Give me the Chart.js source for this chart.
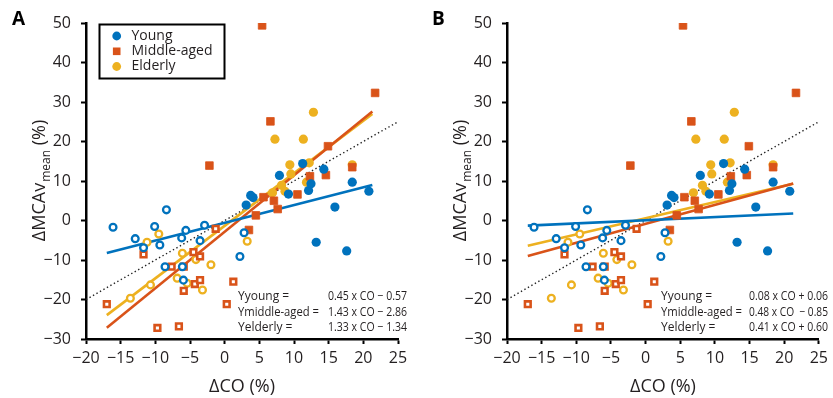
<!DOCTYPE html>
<html>
<head>
<meta charset="utf-8">
<script src="https://cdn.jsdelivr.net/npm/chart.js@4.4.0/dist/chart.umd.min.js"></script>
<style>
  html, body { margin: 0; padding: 0; background: #fff; }
  #wrap { position: relative; width: 833px; height: 398px; overflow: hidden; }
  canvas { position: absolute; top: 0; }
</style>
</head>
<body>
<div id="wrap">
  <canvas id="cA" width="420" height="398" style="left:0px"></canvas>
  <canvas id="cB" width="413" height="398" style="left:420px"></canvas>
</div>
<script>
// ---- Data (ΔCO %, ΔMCAv_mean %) ----
const youngFilledX = [3.1, 3.75, 4.1, 7.9, 9.2, 11.25, 12.1, 12.45, 14.3, 15.9, 13.2, 17.6, 18.4, 20.8];
const youngFilledY = [3.9, 6.35, 5.8, 11.4, 6.7, 14.4, 7.6, 9.3, 13.0, 3.4, -5.5, -7.7, 9.7, 7.4];
const youngOpenX = [-16.1, -12.9, -11.7, -10.1, -9.35, -8.4, -8.6, -6.2, -5.6, -6.1, -5.95, -3.55, -2.9, 2.2, 2.8];
const youngOpenY = [-1.7, -4.6, -6.9, -1.5, -6.2, 2.7, -11.7, -4.4, -2.5, -11.7, -15.1, -5.1, -1.2, -9.1, -3.1];

const middleFilledX = [5.4, 21.7, 6.6, -2.2, 14.9, 14.6, 12.3, 10.5, 18.4, 7.1, 7.65, 5.6, 4.5, 3.5];
const middleFilledY = [49.4, 32.3, 25.1, 13.9, 18.8, 11.5, 11.2, 6.6, 13.5, 5.0, 2.9, 5.9, 1.3, -2.4];
const middleOpenX = [-17.0, -11.7, -9.7, -6.6, -7.65, -5.9, -5.9, -4.5, -3.55, -4.3, -3.55, -1.3, 1.25, 0.3];
const middleOpenY = [-21.2, -8.6, -27.2, -26.8, -11.7, -11.7, -17.8, -8.0, -9.1, -16.1, -15.1, -2.1, -15.5, -21.2];

const elderlyFilledX = [12.8, 7.25, 11.35, 9.4, 12.2, 9.55, 11.8, 18.4, 8.7, 8.2, 6.9];
const elderlyFilledY = [27.4, 20.6, 20.6, 14.1, 14.6, 11.8, 9.7, 14.1, 7.4, 8.9, 7.0];
const elderlyOpenX = [-13.6, -10.7, -11.2, -9.5, -6.85, -5.4, -6.1, -4.15, -3.2, -1.98, 3.25];
const elderlyOpenY = [-19.7, -16.3, -5.5, -3.4, -14.6, -15.9, -8.3, -9.9, -17.6, -11.2, -5.25];

// regression line end points
const fitX = [-17, 21.3];
const fitYoungA = [-8.22, 9.01];
const fitMiddleA = [-27.17, 27.60];
const fitElderlyA = [-23.95, 26.99];
const fitYoungB = [-1.30, 1.76];
const fitMiddleB = [-9.01, 9.37];
const fitElderlyB = [-6.37, 9.33];
const identityX = [-20, 25];
const identityY = [-20, 25];

const xTicks = [-20, -15, -10, -5, 0, 5, 10, 15, 20, 25];
const yTicks = [-30, -20, -10, 0, 10, 20, 30, 40, 50];

const seriesNames = ['Young', 'Middle-aged', 'Elderly'];
const eqLabels = ['Yyoung =', 'Ymiddle-aged =', 'Yelderly ='];
const eqA = ['0.45 x CO \u2212 0.57', '1.43 x CO \u2212 2.86', '1.33 x CO \u2212 1.34'];
const eqB = ['0.08 x CO + 0.06', '0.48 x CO  \u2212 0.85', '0.41 x CO + 0.60'];

// ---- styling ----
const BLUE = '#0072BD', ORANGE = '#D95319', YELLOW = '#EDB120';
const FONT = "'Open Sans', 'Noto Sans', sans-serif";
const TXT = '#231F20';

const pts = (xs, ys) => xs.map((x, i) => ({ x: x, y: ys[i] }));

function filledDs(xs, ys, color, style) {
  return { data: pts(xs, ys), pointStyle: style, pointRadius: style === 'rect' ? 5.4 : 4.6,
    backgroundColor: color, borderColor: color, pointBorderWidth: style === 'rect' ? 0.8 : 0, showLine: false, order: 1 };
}
function openDs(xs, ys, color, style) {
  return { data: pts(xs, ys), pointStyle: style, pointRadius: style === 'rect' ? 4.0 : 3.4,
    backgroundColor: '#ffffff', borderColor: color, pointBorderWidth: style === 'rect' ? 2.6 : 2.3, showLine: false, order: 1 };
}
function lineDs(xs, ys, color, width, dash) {
  return { data: pts(xs, ys), showLine: true, pointRadius: 0, borderColor: color, backgroundColor: color,
    borderWidth: width, borderDash: dash || [], order: 5, fill: false };
}

function drawText(ctx, label, eqCol, eqX, panelLetter, withLegend) {
  ctx.save();
  // panel letter
  ctx.fillStyle = '#000';
  ctx.font = "bold 19px " + FONT;
  ctx.textAlign = 'left';
  ctx.textBaseline = 'middle';
  ctx.fillText(panelLetter, 12, 20);

  // y title (rotated) with subscript
  ctx.fillStyle = TXT;
  ctx.translate(panelLetter === 'A' ? 40 : 41, 181);
  ctx.rotate(-Math.PI / 2);
  ctx.textBaseline = 'middle';
  const main1 = '\u0394MCAv', sub = 'mean', main2 = ' (%)';
  ctx.font = "18px " + FONT;
  const w1 = ctx.measureText(main1).width, w3 = ctx.measureText(main2).width;
  ctx.font = "12px " + FONT;
  const w2 = ctx.measureText(sub).width;
  let x0 = -(w1 + w2 + w3) / 2;
  ctx.font = "18px " + FONT;
  ctx.textAlign = 'left';
  ctx.fillText(main1, x0, 0);
  ctx.font = "12px " + FONT;
  ctx.fillText(sub, x0 + w1 + 1, 7);
  ctx.font = "18px " + FONT;
  ctx.fillText(main2, x0 + w1 + w2 + 1, 0);
  ctx.restore();

  // equations
  ctx.save();
  ctx.fillStyle = TXT;
  ctx.font = "12px " + FONT;
  ctx.textAlign = 'left';
  ctx.textBaseline = 'middle';
  const rows = [297, 312.5, 327.5];
  for (let i = 0; i < 3; i++) {
    ctx.fillText(eqLabels[i], label, rows[i], 81);
    ctx.fillText(eqCol[i], eqX, rows[i], 79);
  }
  ctx.restore();

  if (withLegend) {
    ctx.save();
    ctx.strokeStyle = '#000';
    ctx.lineWidth = 2;
    ctx.fillStyle = '#fff';
    ctx.fillRect(99.5, 24.5, 125, 54);
    ctx.strokeRect(99.5, 24.5, 125, 54);
    const ly = [36, 51.3, 66.5];
    const cols = [BLUE, ORANGE, YELLOW];
    for (let i = 0; i < 3; i++) {
      ctx.fillStyle = cols[i];
      if (i === 1) {
        ctx.fillRect(116.7 - 3.8, ly[i] - 3.8, 7.6, 7.6);
      } else {
        ctx.beginPath();
        ctx.arc(116.7, ly[i], 4.4, 0, Math.PI * 2);
        ctx.fill();
      }
      ctx.fillStyle = TXT;
      ctx.font = "14px " + FONT;
      ctx.textAlign = 'left';
      ctx.textBaseline = 'middle';
      ctx.fillText(seriesNames[i], 131.5, ly[i]);
    }
    ctx.restore();
  }
}

function makeChart(id, fits, eqCol, labelX, eqX, letter, withLegend, yWidth, padRight) {
  const ctxEl = document.getElementById(id);
  const axisCommon = {
    grid: { display: true, drawOnChartArea: false, drawTicks: true, tickLength: 5, tickWidth: 2, tickColor: '#000' },
    border: { display: true, color: '#000', width: 2.5 }
  };
  return new Chart(ctxEl, {
    type: 'scatter',
    data: {
      datasets: [
        filledDs(youngFilledX, youngFilledY, BLUE, 'circle'),
        openDs(youngOpenX, youngOpenY, BLUE, 'circle'),
        filledDs(middleFilledX, middleFilledY, ORANGE, 'rect'),
        openDs(middleOpenX, middleOpenY, ORANGE, 'rect'),
        filledDs(elderlyFilledX, elderlyFilledY, YELLOW, 'circle'),
        openDs(elderlyOpenX, elderlyOpenY, YELLOW, 'circle'),
        lineDs(fitX, fits[0], BLUE, 2.6),
        lineDs(fitX, fits[1], ORANGE, 2.6),
        lineDs(fitX, fits[2], YELLOW, 2.6),
        lineDs(identityX, identityY, '#222', 1.4, [1.4, 2.6])
      ]
    },
    options: {
      responsive: false,
      animation: false,
      devicePixelRatio: 1,
      layout: { padding: { left: 0, right: padRight, top: 23, bottom: 0 } },
      plugins: { legend: { display: false }, tooltip: { enabled: false } },
      scales: {
        x: Object.assign({}, axisCommon, {
          type: 'linear', min: -20, max: 25,
          afterBuildTicks: s => { s.ticks = xTicks.map(v => ({ value: v })); },
          ticks: { color: TXT, font: { size: 16, family: FONT }, padding: 5, maxRotation: 0,
            callback: v => String(v).replace('-', '\u2212') },
          afterFit: s => { s.height = 59; },
          title: { display: true, text: '\u0394CO (%)', color: TXT, font: { size: 18, family: FONT }, padding: { top: 9, bottom: 0 } }
        }),
        y: Object.assign({}, axisCommon, {
          type: 'linear', min: -30, max: 50,
          afterBuildTicks: s => { s.ticks = yTicks.map(v => ({ value: v })); },
          ticks: { color: TXT, font: { size: 16, family: FONT }, padding: 10,
            callback: v => String(v).replace('-', '\u2212') },
          afterFit: s => { s.width = yWidth; }
        })
      }
    },
    plugins: [{
      id: 'txt',
      afterDraw: chart => drawText(chart.ctx, labelX, eqCol, eqX, letter, withLegend)
    }]
  });
}

makeChart('cA', [fitYoungA, fitMiddleA, fitElderlyA], eqA, 238, 328, 'A', true, 86, 22);
makeChart('cB', [fitYoungB, fitMiddleB, fitElderlyB], eqB, 241, 329, 'B', false, 87, 11);
</script>
</body>
</html>
